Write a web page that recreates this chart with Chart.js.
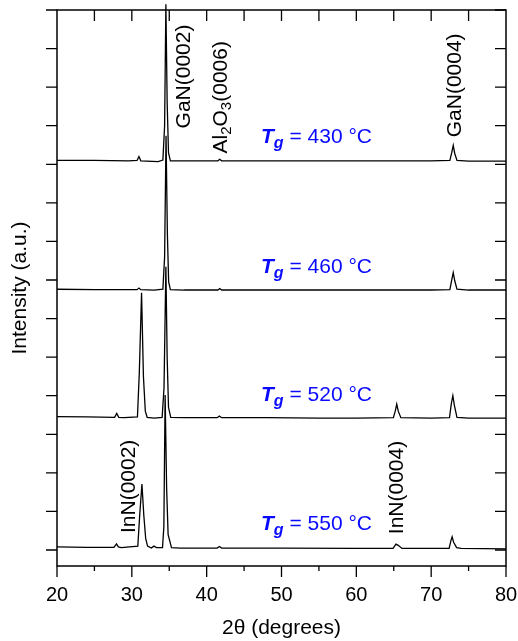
<!DOCTYPE html>
<html><head><meta charset="utf-8">
<script src="https://cdn.jsdelivr.net/npm/chart.js@4.4.1/dist/chart.umd.min.js"></script>
<style>html,body{margin:0;padding:0;background:#fff;} #wrap{width:518px;height:641px;position:relative;}</style>
</head><body><div id="wrap"><canvas id="c" width="518" height="641"></canvas></div>
<script>
// ---- data (2θ in degrees, intensity in arbitrary offset units) ----
const angles430 = [20, 25, 29.5, 30.7, 30.95, 31.2, 33.5, 34.15, 34.38, 34.55, 34.72, 34.9, 35.15, 37, 41.5, 41.75, 42.0, 50, 60, 70, 72.5, 72.75, 72.95, 73.15, 73.45, 75, 80];
const int430    = [10.10, 10.10, 10.09, 10.10, 10.20, 10.09, 10.07, 10.11, 11.0, 14.15, 11.6, 10.3, 10.09, 10.09, 10.09, 10.13, 10.09, 10.09, 10.09, 10.09, 10.10, 10.3, 10.49, 10.28, 10.10, 10.08, 10.08];

const angles460 = [20, 25, 30, 30.7, 30.95, 31.2, 33, 34.15, 34.38, 34.57, 34.75, 34.92, 35.15, 37, 41.5, 41.75, 42.0, 50, 60, 70, 72.5, 72.75, 72.95, 73.15, 73.45, 75, 80];
const int460    = [6.76, 6.75, 6.75, 6.75, 6.79, 6.75, 6.74, 6.76, 7.6, 10.74, 8.2, 6.95, 6.75, 6.74, 6.74, 6.78, 6.74, 6.74, 6.74, 6.74, 6.75, 7.0, 7.19, 6.98, 6.76, 6.74, 6.74];

const angles520 = [20, 24, 27.7, 27.98, 28.25, 29, 30.75, 31.0, 31.3, 31.55, 31.8, 32.05, 33, 34.05, 34.3, 34.55, 34.72, 34.9, 35.2, 37, 41.4, 41.7, 42.0, 48, 55, 60, 64.95, 65.2, 65.4, 65.6, 65.95, 70, 72.45, 72.7, 72.9, 73.1, 73.45, 75, 80];
const int520    = [3.46, 3.45, 3.44, 3.54, 3.44, 3.43, 3.45, 4.6, 6.67, 4.5, 3.6, 3.44, 3.42, 3.44, 4.2, 7.34, 5.0, 3.7, 3.44, 3.43, 3.43, 3.47, 3.43, 3.43, 3.42, 3.42, 3.43, 3.6, 3.78, 3.6, 3.43, 3.42, 3.43, 3.8, 4.0, 3.75, 3.44, 3.42, 3.42];

const angles550 = [20, 24, 27.6, 27.95, 28.2, 28.6, 30.8, 31.05, 31.35, 31.6, 31.85, 32.1, 32.6, 32.95, 33.3, 34.1, 34.28, 34.45, 34.65, 34.85, 35.3, 36.5, 41.4, 41.7, 42.0, 50, 60, 64.9, 65.3, 65.6, 66.1, 72.4, 72.65, 72.8, 73.0, 73.4, 74, 80];
const int550    = [0.08, 0.07, 0.07, 0.16, 0.08, 0.06, 0.1, 0.9, 1.71, 0.9, 0.3, 0.1, 0.05, 0.1, 0.06, 0.06, 0.6, 4.02, 1.6, 0.4, 0.06, 0.05, 0.05, 0.09, 0.05, 0.05, 0.04, 0.04, 0.15, 0.12, 0.04, 0.04, 0.25, 0.34, 0.2, 0.06, 0.04, 0.03];

const xTickLabels = [20, 30, 40, 50, 60, 70, 80];
const xMinorTicks = [25, 35, 45, 55, 65, 75];
const xTopTicks   = [25, 30, 35, 40, 45, 50, 55, 60, 65, 70, 75];
const yTicks      = [0, 1, 2, 3, 4, 5, 6, 7, 8, 9, 10, 11, 12, 13, 14];

const peakNames   = ['GaN(0002)', 'GaN(0004)', 'InN(0002)', 'InN(0004)'];
const tempLabels  = ['430', '460', '520', '550'];

// ---- layout of annotations (positions in data units) ----
const FONT = "'Liberation Sans', Arial, sans-serif";
const peakPos = [ {x: 37.77, y: 10.93}, {x: 73.99, y: 10.70}, {x: 30.42, y: 0.44}, {x: 66.24, y: 0.41} ];
const alPos = {x: 42.72, y: 10.28};
const tempPos = [ {x: 47.26, y: 10.54}, {x: 47.26, y: 7.17}, {x: 47.26, y: 3.87}, {x: 47.26, y: 0.52} ];

function pts(a, v) { return a.map((x, i) => ({x: x, y: v[i]})); }

const framePlugin = {
  id: 'frame',
  afterDatasetsDraw(chart) {
    const {ctx, chartArea: {left, right, top, bottom}, scales: {x, y}} = chart;
    ctx.save();
    ctx.strokeStyle = '#000';
    ctx.lineWidth = 1.5;
    ctx.strokeRect(left, top, right - left, bottom - top);
    ctx.lineWidth = 1.3;
    ctx.beginPath();
    yTicks.forEach(v => {
      const py = y.getPixelForValue(v);
      ctx.moveTo(left - 11, py); ctx.lineTo(left, py);
      ctx.moveTo(right - 11, py); ctx.lineTo(right, py);
    });
    xTickLabels.forEach(v => { const px = x.getPixelForValue(v); ctx.moveTo(px, bottom); ctx.lineTo(px, bottom + 11); });
    xMinorTicks.forEach(v => { const px = x.getPixelForValue(v); ctx.moveTo(px, bottom); ctx.lineTo(px, bottom + 5); });
    xTopTicks.forEach(v => { const px = x.getPixelForValue(v); ctx.moveTo(px, top); ctx.lineTo(px, top + 11); });
    ctx.stroke();
    ctx.restore();
  },
  afterDraw(chart) {
    const {ctx, chartArea: {left, right, top, bottom}, scales: {x, y}} = chart;
    ctx.save();
    ctx.fillStyle = '#000';
    ctx.textBaseline = 'alphabetic';
    // rotated peak labels
    ctx.font = '21px ' + FONT;
    peakNames.forEach((t, i) => {
      ctx.save();
      ctx.translate(x.getPixelForValue(peakPos[i].x), y.getPixelForValue(peakPos[i].y));
      ctx.rotate(-Math.PI / 2);
      ctx.textAlign = 'left';
      ctx.fillText(t, 0, 0);
      ctx.restore();
    });
    // Al2O3(0006) with subscripts
    ctx.save();
    ctx.translate(x.getPixelForValue(alPos.x), y.getPixelForValue(alPos.y));
    ctx.rotate(-Math.PI / 2);
    ctx.textAlign = 'left';
    const segs = [['Al', 0, 21], ['2', 4, 15], ['O', 0, 21], ['3', 4, 15], ['(0006)', 0, 21]];
    let cx = 0;
    segs.forEach(([t, dy, fs]) => {
      ctx.font = fs + 'px ' + FONT;
      ctx.fillText(t, cx, dy);
      cx += ctx.measureText(t).width;
    });
    ctx.restore();
    // temperature labels
    ctx.fillStyle = '#0a0aff';
    tempLabels.forEach((t, i) => {
      let px = x.getPixelForValue(tempPos[i].x);
      const py = y.getPixelForValue(tempPos[i].y);
      ctx.textAlign = 'left';
      ctx.font = 'italic bold 21px ' + FONT;
      ctx.fillText('T', px, py);
      px += ctx.measureText('T').width;
      ctx.font = 'italic bold 16px ' + FONT;
      ctx.fillText('g', px, py + 5);
      px += ctx.measureText('g').width;
      ctx.font = '21px ' + FONT;
      ctx.fillText(' = ' + t + ' \u00B0C', px, py);
    });
    // axis titles
    ctx.fillStyle = '#000';
    ctx.font = '21px ' + FONT;
    ctx.textAlign = 'center';
    ctx.fillText('2\u03B8 (degrees)', (left + right) / 2, 634);
    ctx.save();
    ctx.font = '21px ' + FONT;
    ctx.translate(26, (top + bottom) / 2);
    ctx.rotate(-Math.PI / 2);
    ctx.fillText('Intensity (a.u.)', 0, 0);
    ctx.restore();
    ctx.restore();
  }
};

const mk = (a, v, clip) => ({
  data: pts(a, v), borderColor: '#000', borderWidth: 1.3, pointRadius: 0, tension: 0, fill: false,
  clip: clip
});

new Chart(document.getElementById('c'), {
  type: 'line',
  data: {
    datasets: [
      mk(angles430, int430, {left: 0, top: false, right: 0, bottom: 0}),
      mk(angles460, int460, 0),
      mk(angles520, int520, 0),
      mk(angles550, int550, 0)
    ]
  },
  options: {
    responsive: false,
    animation: false,
    devicePixelRatio: 1,
    layout: {padding: {left: 57, right: 12, top: 10, bottom: 0}},
    plugins: {legend: {display: false}, tooltip: {enabled: false}},
    scales: {
      x: {
        type: 'linear', min: 20, max: 80,
        afterFit(s) { s.height = 75; s.paddingLeft = 0; s.paddingRight = 0; },
        afterBuildTicks(s) { s.ticks = xTickLabels.map(v => ({value: v})); },
        ticks: {font: {family: FONT, size: 20}, color: '#000', padding: 17, maxRotation: 0, autoSkip: false},
        grid: {display: false, drawTicks: false},
        border: {display: false}
      },
      y: {display: false, min: -0.415, max: 14}
    }
  },
  plugins: [framePlugin]
});
</script></body></html>
